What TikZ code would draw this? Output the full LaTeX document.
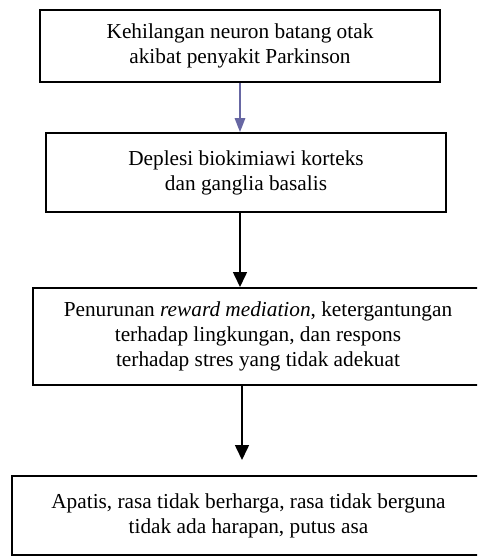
\documentclass[tikz,border=0pt]{standalone}
\usepackage{fontspec}
\setmainfont{Liberation Serif}
\usetikzlibrary{arrows.meta}
\definecolor{arrblue}{HTML}{6767A3}
\tikzset{
  box/.style={draw=black, line width=1.8pt, align=center, inner sep=0pt,
    font=\fontsize{21.3}{25}\selectfont},
  blk/.style={line width=1.6pt, -{Triangle[length=15pt,width=14pt]}},
  blu/.style={draw=arrblue, line width=1.6pt, -{Triangle[length=14pt,width=10.5pt]}, arrblue},
}
\begin{document}
\begin{tikzpicture}[x=1pt,y=-1pt]
\useasboundingbox (0,0) rectangle (477,556);
\clip (0,0) rectangle (477,556);
\node[box, minimum width=400pt, minimum height=72pt] (b1) at (240,46)
  {Kehilangan neuron batang otak\\akibat penyakit Parkinson};
\node[box, minimum width=400pt, minimum height=79pt] (b2) at (246,172.5)
  {Deplesi biokimiawi korteks\\dan ganglia basalis};
\node[box, minimum width=450pt, minimum height=97pt] (b3) at (258,336.5)
  {Penurunan \textit{reward mediation}, ketergantungan\\terhadap lingkungan, dan respons\\terhadap stres yang tidak adekuat};
\node[box, minimum width=473pt, minimum height=79pt] (b4) at (248.5,515.5)
  {Apatis, rasa tidak berharga, rasa tidak berguna\\tidak ada harapan, putus asa};
\coordinate (a1s) at (240,82);
\coordinate (a2s) at (240,212);
\coordinate (a2e) at (240,287);
\coordinate (a3s) at (242,385);
\coordinate (a3e) at (242,460);
\draw[blu] (b1.south -| a1s) -- (a1s |- b2.north);
\draw[blk] (a2s) -- (a2e);
\draw[blk] (a3s) -- (a3e);
\end{tikzpicture}
\end{document}
